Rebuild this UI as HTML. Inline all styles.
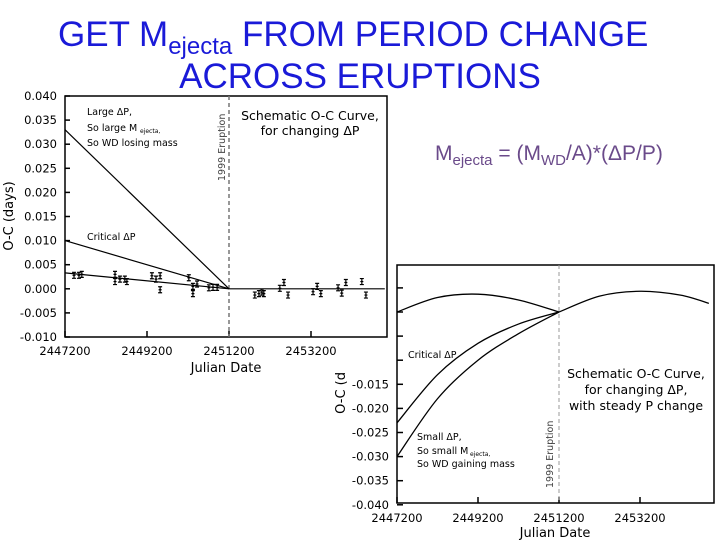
<!DOCTYPE html>
<html><head><meta charset="utf-8"><style>
body{margin:0;background:#fff;}
svg{display:block;font-family:"DejaVu Sans","Liberation Sans",sans-serif;}
.tit{font-family:"Liberation Sans",sans-serif;fill:#1a1ad8;font-size:35px;}
.fm{font-family:"Liberation Sans",sans-serif;fill:#6a4a8a;font-size:21px;}
.tk{font-size:11.5px;fill:#000;}
.an{font-size:9.5px;fill:#000;}
</style></head><body>
<svg id="s" width="720" height="540">
<text class="tit" x="58" y="46">GET M<tspan font-size="24" dy="8">ejecta</tspan><tspan dy="-8"> FROM PERIOD CHANGE</tspan></text>
<text class="tit" x="360" y="88" text-anchor="middle">ACROSS ERUPTIONS</text>
<text class="fm" x="435" y="160">M<tspan font-size="15" dy="5">ejecta</tspan><tspan dy="-5"> = (M</tspan><tspan font-size="15" dy="5">WD</tspan><tspan dy="-5">/A)*(ΔP/P)</tspan></text>
<g id="top"></g>
<g id="bot"></g>
</svg>
<script>
// top chart data
const topYTicks=[0.040,0.035,0.030,0.025,0.020,0.015,0.010,0.005,0.000,-0.005,-0.010];
const topXTicks=[2447200,2449200,2451200,2453200];
const largeLine=[[2447200,0.033],[2451200,0]];
const criticalLine=[[2447200,0.010],[2451200,0]];
const fitLine=[[2447200,0.0033],[2451200,0]];
const postLine=[[2451200,0],[2455000,0]];
const obsJD=[2447420,2447540,2447610,2448420,2448420,2448540,2448660,2448710,2449320,2449420,2449520,2449520,2450220,2450320,2450320,2450420,2450710,2450810,2450910,2451830,2451930,2452000,2452050,2452440,2452540,2452640,2453250,2453350,2453440,2453860,2453950,2454050,2454440,2454540];
const obsOC=[0.0028,0.0028,0.003,0.003,0.0015,0.002,0.002,0.0015,0.0027,0.002,0.0027,-0.0002,0.0023,0.0005,-0.001,0.001,0.0002,0.0003,0.0003,-0.0013,-0.001,-0.0007,-0.001,0.0001,0.0013,-0.0013,-0.0006,0.0005,-0.001,0.0002,-0.0009,0.0013,0.0015,-0.0013];
// bottom chart data
const botYTicks=[-0.015,-0.020,-0.025,-0.030,-0.035,-0.040];
const botXTicks=[2447200,2449200,2451200,2453200];
const preCurveX=[2447200,2448200,2449200,2450200,2451200];
const preCurveY=[0.0,0.003,0.0037,0.0025,0.0];
const postCurveX=[2451200,2452200,2453200,2454200,2454900];
const postCurveY=[0.0,0.0033,0.0043,0.0035,0.0018];
const critCurveY=[-0.023,-0.013,-0.0065,-0.0025,0.0];
const smallCurveY=[-0.030,-0.018,-0.010,-0.0045,0.0];

const NS='http://www.w3.org/2000/svg';
function mk(p,t,a){const e=document.createElementNS(NS,t);for(const k in a)e.setAttribute(k,a[k]);p.appendChild(e);return e;}
function smooth(pts){let d='M'+pts[0][0]+','+pts[0][1];for(let i=0;i<pts.length-1;i++){const p0=pts[Math.max(0,i-1)],p1=pts[i],p2=pts[i+1],p3=pts[Math.min(pts.length-1,i+2)];d+=' C'+(p1[0]+(p2[0]-p0[0])/6)+','+(p1[1]+(p2[1]-p0[1])/6)+' '+(p2[0]-(p3[0]-p1[0])/6)+','+(p2[1]-(p3[1]-p1[1])/6)+' '+p2[0]+','+p2[1];}return d;}

// TOP
const T=document.getElementById('top');
const tx=v=>65+(v-2447200)*82/2000, ty=v=>96+(0.040-v)*241/0.05;
let e=mk(T,'rect',{x:65,y:96,width:322,height:241,fill:'#fff',stroke:'#000','stroke-width':1.5});

topYTicks.forEach(v=>{mk(T,'line',{x1:65,x2:70,y1:ty(v),y2:ty(v),stroke:'#000','stroke-width':1.5});
 e=mk(T,'text',{x:57,y:ty(v)+4,'text-anchor':'end',class:'tk'});e.textContent=v.toFixed(3);
 });
topXTicks.forEach(v=>{mk(T,'line',{x1:tx(v),x2:tx(v),y1:337,y2:331,stroke:'#000','stroke-width':1.5});
 e=mk(T,'text',{x:tx(v),y:355,'text-anchor':'middle',class:'tk'});e.textContent=v;
 });
e=mk(T,'text',{x:226,y:372,'text-anchor':'middle','font-size':13});e.textContent='Julian Date';

e=mk(T,'text',{x:13,y:216,'text-anchor':'middle','font-size':13,transform:'rotate(-90 13 216)'});e.textContent='O-C (days)';

mk(T,'line',{x1:tx(2451200),x2:tx(2451200),y1:96,y2:337,stroke:'#777','stroke-width':1.5,'stroke-dasharray':'4,3'});
[[largeLine,'large-dp-line'],[criticalLine,'critical-dp-line'],[fitLine,'fit-line'],[postLine,'post-eruption-line']].forEach(([L,n])=>{
 e=mk(T,'line',{x1:tx(L[0][0]),y1:ty(L[0][1]),x2:tx(L[1][0]),y2:ty(L[1][1]),stroke:'#000','stroke-width':1.2});
 });
obsJD.forEach((j,i)=>{const x=tx(j),y=ty(obsOC[i]);
 e=mk(T,'path',{d:`M${x},${y-3}V${y+3}M${x-2},${y-3}H${x+2}M${x-2},${y+3}H${x+2}M${x-1.5},${y}H${x+1.5}`,stroke:'#000','stroke-width':1.2});
 });
[['Large ΔP,',87,115],['So large M',87,131],['So WD losing mass',87,146],['Critical ΔP',87,240]].forEach(([t,x,y])=>{
 e=mk(T,'text',{x:x,y:y,class:'an'});e.textContent=t;});
e=mk(T,'text',{x:140,y:133,'font-size':6});e.textContent='ejecta,';
e=mk(T,'text',{x:310,y:120,'text-anchor':'middle','font-size':12.5});e.textContent='Schematic O-C Curve,';

e=mk(T,'text',{x:310,y:135,'text-anchor':'middle','font-size':12.5});e.textContent='for changing ΔP';
e=mk(T,'text',{x:225,y:181,'font-size':9.5,fill:'#444',transform:'rotate(-90 225 181)'});e.textContent='1999 Eruption';


// BOTTOM
const B=document.getElementById('bot');
const bx=v=>397+(v-2447200)*81/2000, by=v=>312-v*4820;
mk(B,'rect',{x:330,y:368,width:70,height:172,fill:'#fff'});
mk(B,'rect',{x:392,y:262,width:328,height:278,fill:'#fff'});
e=mk(B,'path',{d:'M397,265H714V503H397Z',fill:'none',stroke:'#000','stroke-width':1.5});

[0.005,0,-0.005,-0.01].concat(botYTicks).forEach(v=>mk(B,'line',{x1:397,x2:403,y1:by(v),y2:by(v),stroke:'#000','stroke-width':1.5}));
botYTicks.forEach(v=>{e=mk(B,'text',{x:389,y:by(v)+4,'text-anchor':'end',class:'tk'});e.textContent=v.toFixed(3);
 });
botXTicks.forEach(v=>{mk(B,'line',{x1:bx(v),x2:bx(v),y1:503,y2:497,stroke:'#000','stroke-width':1.5});
 e=mk(B,'text',{x:bx(v),y:522,'text-anchor':'middle',class:'tk'});e.textContent=v;
 });
e=mk(B,'text',{x:555,y:537,'text-anchor':'middle','font-size':13});e.textContent='Julian Date';

e=mk(B,'text',{x:345,y:372,'text-anchor':'end','font-size':13,transform:'rotate(-90 345 372)'});e.textContent='O-C (d';

mk(B,'line',{x1:bx(2451200),x2:bx(2451200),y1:265,y2:503,stroke:'#999','stroke-width':1,'stroke-dasharray':'4,3'});
[[preCurveX,preCurveY,'pre-eruption-curve'],[postCurveX,postCurveY,'post-eruption-curve'],[preCurveX,critCurveY,'critical-curve'],[preCurveX,smallCurveY,'small-dp-curve']].forEach(([X,Y,n])=>{
 e=mk(B,'path',{d:smooth(X.map((x,i)=>[bx(x),by(Y[i])])),fill:'none',stroke:'#000','stroke-width':1.3});
 });
[['Critical ΔP',408,358],['Small ΔP,',417,440],['So small M',417,454],['So WD gaining mass',417,467]].forEach(([t,x,y])=>{
 e=mk(B,'text',{x:x,y:y,class:'an'});e.textContent=t;});
e=mk(B,'text',{x:470,y:456,'font-size':6});e.textContent='ejecta,';
['Schematic O-C Curve,','for changing ΔP,','with steady P change'].forEach((t,i)=>{
 e=mk(B,'text',{x:636,y:378+i*16,'text-anchor':'middle','font-size':12.5});e.textContent=t;
 });
e=mk(B,'text',{x:553,y:488,'font-size':9.5,fill:'#444',transform:'rotate(-90 553 488)'});e.textContent='1999 Eruption';

</script>
</body></html>
